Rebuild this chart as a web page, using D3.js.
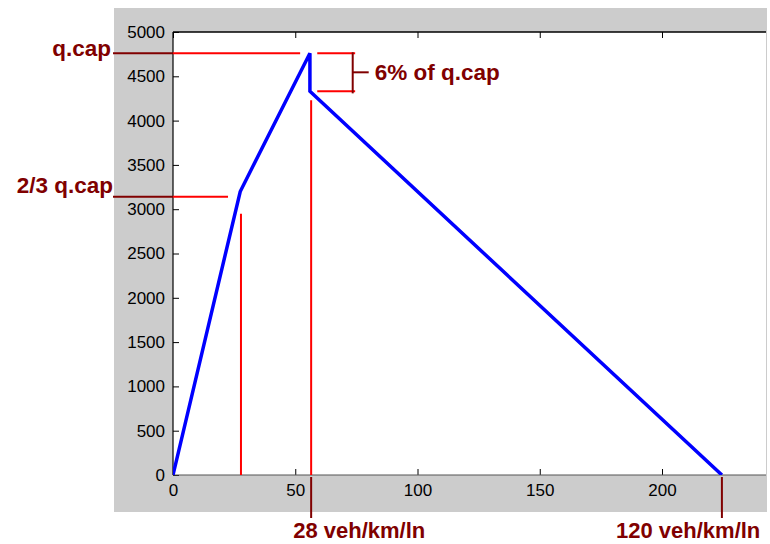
<!DOCTYPE html>
<html><head><meta charset="utf-8">
<script src="https://cdn.jsdelivr.net/npm/d3@7"></script>
<style>
html,body{margin:0;padding:0;background:#fff;}
svg{display:block;}
</style></head>
<body>
<svg id="chart" width="770" height="544"></svg>
<script>
// ---- data ----
const density = [0, 27.5, 56, 56, 224.5];      // veh/km (x)
const flow    = [0, 3200, 4760, 4330, 0];      // veh/h (y)
const xTicks = [0, 50, 100, 150, 200];
const yTicks = [0, 500, 1000, 1500, 2000, 2500, 3000, 3500, 4000, 4500, 5000];
const qCap = 4760;          // capacity flow
const qTwoThirds = 3140;    // 2/3 of capacity
const qDrop = 4330;         // flow after capacity drop
const kKnee = 27.8;         // density at 2/3 q.cap
const kCrit = 56.5;         // critical density
const kJam = 224.5;         // jam density
const labelCap = "q.cap";
const labelTwoThirds = "2/3 q.cap";
const labelDrop = "6% of q.cap";
const labelCrit = "28 veh/km/ln";
const labelJam = "120 veh/km/ln";

// ---- layout ----
const svg = d3.select("#chart");
const L = 173, T = 32, B = 475, R = 766;
const x = d3.scaleLinear().domain([0, 250]).range([L, L + 250 * 2.445]);
const y = d3.scaleLinear().domain([0, 5000]).range([B, T]);
const red = "#ff0000", dark = "#800000";
const font = "'Liberation Sans', Arial, sans-serif";

// figure background
svg.append("rect").attr("x", 114).attr("y", 8).attr("width", 653).attr("height", 504).attr("fill", "#cccccc");
// plot area
svg.append("rect").attr("x", L).attr("y", T).attr("width", R - L).attr("height", B - T).attr("fill", "#fff");

const defs = svg.append("defs");
defs.append("clipPath").attr("id", "clip").append("rect")
  .attr("x", L).attr("y", T).attr("width", R - L).attr("height", B - T);

// axes
const gx = svg.append("g").attr("transform", `translate(0,${B})`)
  .call(d3.axisBottom(x).tickValues(xTicks).tickSize(-6).tickPadding(9).tickFormat(d3.format("d")));
const gxTop = svg.append("g").attr("transform", `translate(0,${T})`)
  .call(d3.axisTop(x).tickValues(xTicks).tickSize(-6).tickFormat(""));
const gy = svg.append("g").attr("transform", `translate(${L},0)`)
  .call(d3.axisLeft(y).tickValues(yTicks).tickSize(-6).tickPadding(8).tickFormat(d3.format("d")));
[gx, gxTop, gy].forEach(g => {
  g.select(".domain").remove();
  g.selectAll(".tick line").attr("stroke", "#000").attr("stroke-width", 1);
  g.selectAll("text").attr("font-family", font).attr("font-size", 17).attr("fill", "#000");
});
// box lines
svg.append("line").attr("x1", L).attr("x2", R).attr("y1", T).attr("y2", T).attr("stroke", "#000").attr("stroke-width", 1.5);
svg.append("line").attr("x1", L).attr("x2", R).attr("y1", B).attr("y2", B).attr("stroke", "#555").attr("stroke-width", 1.2);
svg.append("line").attr("x1", L).attr("x2", L).attr("y1", T).attr("y2", B).attr("stroke", "#000").attr("stroke-width", 1.2);

// annotation lines inside plot (red)
const ann = svg.append("g").attr("clip-path", "url(#clip)").attr("stroke", red).attr("stroke-width", 2);
ann.append("line").attr("x1", L).attr("x2", x(52)).attr("y1", y(qCap)).attr("y2", y(qCap));
ann.append("line").attr("x1", x(59)).attr("x2", x(74.5)).attr("y1", y(qCap)).attr("y2", y(qCap));
ann.append("line").attr("x1", x(59)).attr("x2", x(74.5)).attr("y1", y(qDrop)).attr("y2", y(qDrop));
ann.append("line").attr("x1", L).attr("x2", x(22.5)).attr("y1", y(qTwoThirds)).attr("y2", y(qTwoThirds));
ann.append("line").attr("x1", x(kKnee)).attr("x2", x(kKnee)).attr("y1", y(2950)).attr("y2", B);
ann.append("line").attr("x1", x(kCrit)).attr("x2", x(kCrit)).attr("y1", y(4230)).attr("y2", B);

// main curve
const line = d3.line().x((d, i) => x(density[i])).y((d, i) => y(flow[i]));
svg.append("path").datum(density).attr("clip-path", "url(#clip)")
  .attr("d", line).attr("fill", "none").attr("stroke", "#0000ff")
  .attr("stroke-width", 3.5).attr("stroke-linejoin", "miter");

// dark red annotation lines outside / bracket
const dk = svg.append("g").attr("stroke", dark).attr("stroke-width", 2);
dk.append("line").attr("x1", 113).attr("x2", L).attr("y1", y(qCap)).attr("y2", y(qCap));
dk.append("line").attr("x1", 113).attr("x2", L).attr("y1", y(qTwoThirds)).attr("y2", y(qTwoThirds));
dk.append("line").attr("x1", x(kCrit)).attr("x2", x(kCrit)).attr("y1", B + 2).attr("y2", 518);
dk.append("line").attr("x1", x(kJam)).attr("x2", x(kJam)).attr("y1", B + 2).attr("y2", 518);
const bx = x(73.5);
dk.append("line").attr("x1", bx).attr("x2", bx).attr("y1", y(qCap) - 1).attr("y2", y(qDrop) + 2);
dk.append("line").attr("x1", bx).attr("x2", bx + 16).attr("y1", y((qCap + qDrop) / 2)).attr("y2", y((qCap + qDrop) / 2));

// labels
const lab = svg.append("g").attr("font-family", font).attr("font-weight", "bold")
  .attr("font-size", 22.5).attr("fill", dark);
lab.append("text").attr("x", 111).attr("y", y(qCap) + 3).attr("text-anchor", "end").text(labelCap);
lab.append("text").attr("x", 113).attr("y", y(qTwoThirds) - 4).attr("text-anchor", "end").text(labelTwoThirds);
lab.append("text").attr("x", bx + 22).attr("y", y((qCap + qDrop) / 2) + 8).text(labelDrop);
lab.append("text").attr("x", x(kCrit) - 18).attr("y", 538).attr("font-size", 22).text(labelCrit);
lab.append("text").attr("x", 616).attr("y", 538).attr("font-size", 22).text(labelJam);
</script>
</body></html>
